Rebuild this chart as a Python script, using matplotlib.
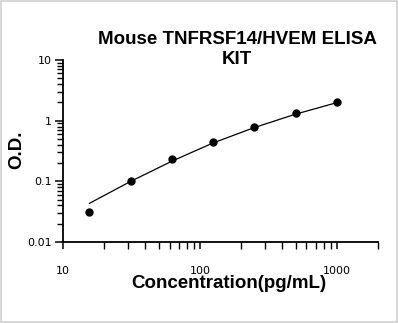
import numpy as np
import matplotlib
matplotlib.use("Agg")
import matplotlib.pyplot as plt
from matplotlib.ticker import LogLocator, NullFormatter, FixedLocator, FixedFormatter
from matplotlib.patches import Rectangle

# standard curve points
conc = [15.6, 31.25, 62.5, 125, 250, 500, 1000]
od = [0.031, 0.10, 0.235, 0.44, 0.78, 1.32, 2.0]
# fitted curve
fit_conc = [15.6, 31.25, 62.5, 125, 250, 500, 1000]
fit_od = [0.0434, 0.10, 0.215, 0.43, 0.77, 1.28, 1.98]

x_ticks = [10, 100, 1000]
x_labels = ["10", "100", "1000"]
y_ticks = [0.01, 0.1, 1, 10]
y_labels = ["0.01", "0.1", "1", "10"]

fig = plt.figure(figsize=(3.98, 3.23), dpi=100)
fig.patches.append(Rectangle((0.002, 0.002), 0.996, 0.994, transform=fig.transFigure,
                             fill=False, edgecolor="#d0d0d0", linewidth=1.2))

ax = fig.add_axes([63/398, 1-242/323, (378-63)/398, (242-60)/323])
ax.set_xscale("log")
ax.set_yscale("log")
ax.set_xlim(10, 2000)
ax.set_ylim(0.01, 10)

ax.plot(fit_conc, fit_od, color="black", linewidth=0.9)
ax.plot(conc, od, "o", color="black", markersize=5)

for s in ["top", "right"]:
    ax.spines[s].set_visible(False)
for s in ["left", "bottom"]:
    ax.spines[s].set_linewidth(1.3)

ax.xaxis.set_major_locator(FixedLocator(x_ticks))
ax.xaxis.set_major_formatter(FixedFormatter(x_labels))
ax.yaxis.set_major_locator(FixedLocator(y_ticks))
ax.yaxis.set_major_formatter(FixedFormatter(y_labels))
ax.xaxis.set_minor_locator(LogLocator(base=10, subs=np.arange(2, 10)))
ax.yaxis.set_minor_locator(LogLocator(base=10, subs=np.arange(2, 10)))
ax.xaxis.set_minor_formatter(NullFormatter())
ax.yaxis.set_minor_formatter(NullFormatter())

ax.tick_params(axis="both", which="major", length=6, width=1.1, labelsize=8, direction="out")
ax.tick_params(axis="both", which="minor", length=4, width=1.0, direction="out")
ax.tick_params(axis="x", which="major", pad=12, length=5)
ax.tick_params(axis="x", which="minor", length=5)
ax.tick_params(axis="y", which="major", pad=2)

fig.text(237/398, 1-40/323, "Mouse TNFRSF14/HVEM ELISA", ha="center", va="center",
         fontsize=13.5, fontweight="bold", family="Liberation Sans")
fig.text(237/398, 1-59/323, "KIT", ha="center", va="center",
         fontsize=13.5, fontweight="bold", family="Liberation Sans")
fig.text(229/398, 1-284/323, "Concentration(pg/mL)", ha="center", va="center",
         fontsize=13.5, fontweight="bold", family="Liberation Sans")
fig.text(17/398, 1-150/323, "O.D.", ha="center", va="center", rotation=90,
         fontsize=13.5, fontweight="bold", family="Liberation Sans")

fig.savefig("out.png", dpi=100)
